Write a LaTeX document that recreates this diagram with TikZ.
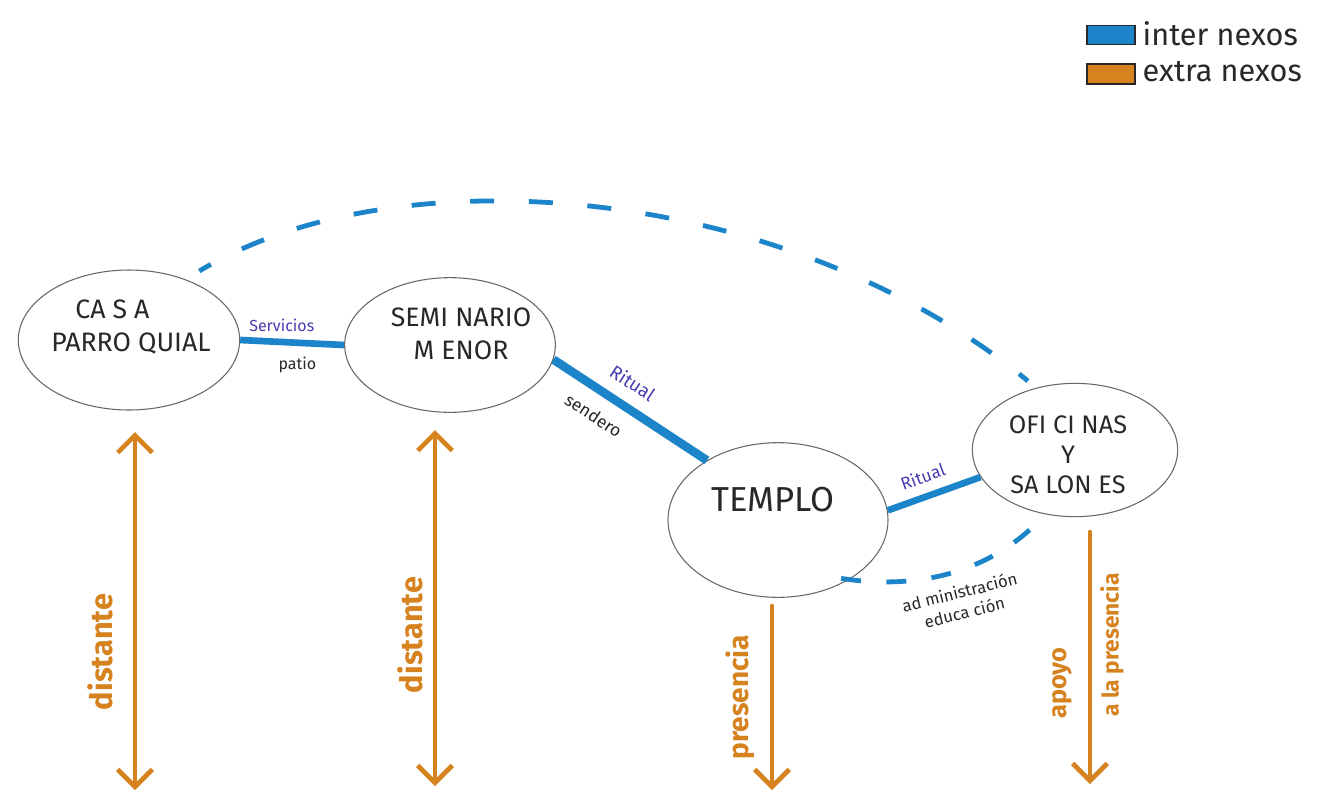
\documentclass[tikz,border=0pt]{standalone}
\usepackage{fontspec}
\setmainfont{Fira Sans}
\usetikzlibrary{shapes.geometric,arrows.meta}
\definecolor{inter}{RGB}{28,132,200}
\definecolor{extra}{RGB}{214,130,30}
\definecolor{lbl}{RGB}{72,62,178}
\definecolor{ink}{RGB}{40,40,40}
\tikzset{
  place/.style={ellipse,draw=ink!70,line width=0.8pt,inner sep=0pt},
  txt/.style={align=center,text=ink,inner sep=0pt,font=\fontsize{20}{25}\selectfont},
  internexo/.style={inter,line width=5pt},
  dashnexo/.style={inter,line width=3.6pt,dash pattern=on 18pt off 26pt},
  extranexo/.style={extra,line width=3.5pt,line cap=round},
  tip/.style={arrows={-{Straight Barb[length=13pt,width=26pt,line width=3.5pt]}}},
  twotips/.style={arrows={{Straight Barb[length=13pt,width=26pt,line width=3.5pt]}-{Straight Barb[length=13pt,width=26pt,line width=3.5pt]}}},
  lab/.style={text=lbl,font=\fontsize{12}{14}\selectfont},
  blab/.style={text=ink,font=\fontsize{12}{14}\selectfont},
  olab/.style={text=extra,font=\bfseries\fontsize{23}{26}\selectfont,rotate=90},
  legtext/.style={text=ink,anchor=west,font=\fontsize{23}{26}\selectfont}
}
\begin{document}
\begin{tikzpicture}[x=0.75pt,y=-0.75pt]
\useasboundingbox[fill=white] (0,0) rectangle (1331,808);

% places
\node[place,minimum width=166pt,minimum height=105pt] (casa) at (129,340) {};
\node[txt,align=left] (casat) at (131,327) {\hspace{0.9em}CA S A\\PARRO QUIAL};
\node[place,minimum width=158pt,minimum height=101pt] (sem) at (450,345) {};
\node[txt] (semt) at (461,334) {SEMI NARIO\\M ENOR};
\node[place,minimum width=165pt,minimum height=116pt] (templo) at (778,520) {};
\node[txt,font=\fontsize{26}{30}\selectfont] (templot) at (773,500) {TEMPLO};
\node[place,minimum width=154pt,minimum height=100pt] (ofi) at (1075,450) {};
\node[txt,font=\fontsize{19}{22.5}\selectfont] (ofit) at (1068,455) {OFI CI NAS\\Y\\SA LON ES};

% internexos (solid)
\draw[internexo] (casa.east) -- (sem.west)
  node[pos=0.4,above=2pt,lab] (servicios) {Servicios}
  node[pos=0.55,below=5pt,blab] (patio) {patio};
\draw[internexo,line width=6.5pt] (sem.-8) -- (templo.140)
  node[pos=0.43,sloped,above=6pt,lab,font=\fontsize{14}{16}\selectfont] (ritual1) {Ritual}
  node[pos=0.35,sloped,below=7pt,blab,font=\fontsize{13}{15}\selectfont] (sendero) {sendero};
\draw[internexo] (templo.5) -- (ofi.196)
  node[pos=0.45,sloped,above=4pt,lab,font=\fontsize{13}{15}\selectfont] (ritual2) {Ritual};

% internexos (dashed)
\draw[dashnexo,dash phase=8pt,shorten <=12pt,shorten >=8pt] (casa.47) .. controls (400,150) and (790,185) .. (ofi.122);
\draw[dashnexo,dash pattern=on 15pt off 19pt,shorten <=-6pt] (templo.-40) .. controls (930,592) and (1000,565) .. (ofi.-115);
\node[blab,rotate=14,align=center,font=\fontsize{12.5}{15.5}\selectfont] (admin) at (962,602) {ad ministración\\educa ción};

% extranexos
\coordinate (a1t) at (135,432); \coordinate (a1b) at (135,790);
\coordinate (a2t) at (435,430); \coordinate (a2b) at (435,786);
\coordinate (a3t) at (772,606); \coordinate (a3b) at (772,790);
\coordinate (a4t) at (1090,532); \coordinate (a4b) at (1090,784);
\draw[extranexo,twotips] (a1t) -- (a1b);
\draw[extranexo,twotips] (a2t) -- (a2b);
\draw[extranexo,tip] (a3t) -- (a3b);
\draw[extranexo,tip] (a4t) -- (a4b);
\node[olab] (dist1) at (100,652) {distante};
\node[olab] (dist2) at (410,635) {distante};
\node[olab,font=\bfseries\fontsize{21}{24}\selectfont] (pres) at (740,697) {presencia};
\node[olab,font=\bfseries\fontsize{19}{22}\selectfont] (apoyo) at (1062,683) {apoyo};
\node[olab,font=\bfseries\fontsize{17}{20}\selectfont] (alapres) at (1112,645) {a la presencia};

% legend
\node[draw=ink,line width=1.2pt,fill=inter,minimum width=36pt,minimum height=14pt,inner sep=0pt] (legi) at (1111,35) {};
\node[draw=ink,line width=1.2pt,fill=extra,minimum width=36pt,minimum height=15pt,inner sep=0pt] (lege) at (1111,74) {};
\node[legtext] (legit) at (1138,34) {inter nexos};
\node[legtext] (leget) at (1138,72) {extra nexos};
\end{tikzpicture}
\end{document}
